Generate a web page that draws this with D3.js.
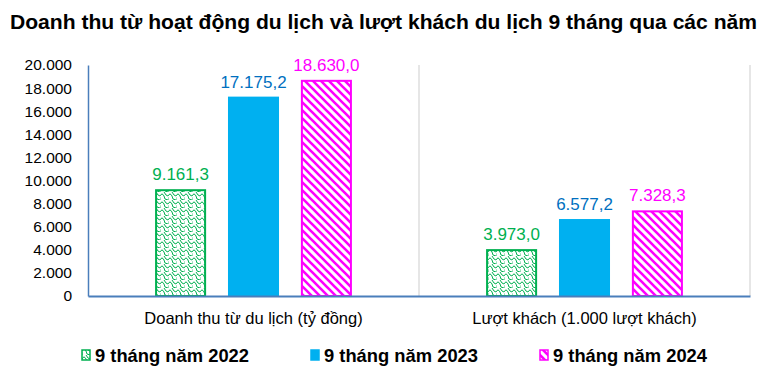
<!DOCTYPE html>
<html>
<head>
<meta charset="utf-8">
<script src="https://cdn.jsdelivr.net/npm/d3@7"></script>
<style>
  body { margin: 0; background: #fff; }
  svg { display: block; }
</style>
</head>
<body>
<script>
// data
var categories = ["Doanh thu từ du lịch (tỷ đồng)", "Lượt khách (1.000 lượt khách)"];
var seriesNames = ["9 tháng năm 2022", "9 tháng năm 2023", "9 tháng năm 2024"];
var values2022 = [9161.3, 3973.0];
var values2023 = [17175.2, 6577.2];
var values2024 = [18630.0, 7328.3];
var yTicks = [0, 2000, 4000, 6000, 8000, 10000, 12000, 14000, 16000, 18000, 20000];

var allValues = [values2022, values2023, values2024];
var fills = ["url(#scales)", "#00b0f0", "url(#stripes)"];
var strokes = ["#00b050", "#00b0f0", "#ff00ff"];
var labelColors = ["#00b050", "#0070c0", "#ff00ff"];

var w = 769, h = 389;
var mLeft = 88, mRight = 750, mTop = 65, mBottom = 296;

var vn = d3.formatLocale({decimal: ",", thousands: ".", grouping: [3], currency: ["", ""]});
var fmtVal = vn.format(",.1f");
var fmtTick = vn.format(",.0f");

var svg = d3.select("body").append("svg").attr("width", w).attr("height", h);

// patterns
var defs = svg.append("defs");
var p1 = defs.append("pattern").attr("id", "scales")
  .attr("patternUnits", "userSpaceOnUse").attr("width", 8).attr("height", 8);
p1.append("rect").attr("width", 8).attr("height", 8).attr("fill", "#fff");
p1.append("path")
  .attr("d", "M0,4 Q2,0 4,4 M4,4 Q4,8 8,8 M4,0 Q6,4 8,4 M0,8 Q0,4 -1,4")
  .attr("fill", "none").attr("stroke", "#00b050").attr("stroke-width", 1);

var p2 = defs.append("pattern").attr("id", "stripes")
  .attr("patternUnits", "userSpaceOnUse").attr("width", 8).attr("height", 8);
p2.append("rect").attr("width", 8).attr("height", 8).attr("fill", "#fff");
p2.append("path")
  .attr("d", "M-2,-2 L10,10 M-2,6 L2,10 M6,-2 L10,2")
  .attr("stroke", "#ff00ff").attr("stroke-width", 2.6);

var x0 = d3.scaleBand().domain(categories).range([mLeft, mRight]);
var x1 = d3.scaleBand().domain(seriesNames).range([0, x0.bandwidth()])
  .paddingInner(0.3).paddingOuter(0.92);
var y = d3.scaleLinear().domain([0, 20000]).range([mBottom, mTop]);

// title
svg.append("text")
  .attr("x", 10).attr("y", 29)
  .attr("textLength", 747).attr("lengthAdjust", "spacingAndGlyphs")
  .attr("font-family", "'Liberation Sans', Arial, sans-serif")
  .attr("font-weight", "bold")
  .attr("font-size", 20)
  .attr("fill", "#000")
  .text("Doanh thu từ hoạt động du lịch và lượt khách du lịch 9 tháng qua các năm");

// category separators
svg.selectAll("line.sep").data([categories[1], null]).enter().append("line")
  .attr("x1", function(d) { return d ? x0(d) : mRight; })
  .attr("x2", function(d) { return d ? x0(d) : mRight; })
  .attr("y1", mTop).attr("y2", mBottom)
  .attr("stroke", "#e6e6e6").attr("stroke-width", 2);

// y axis
var yAxis = svg.append("g").attr("transform", "translate(" + mLeft + ",0)")
  .call(d3.axisLeft(y).tickValues(yTicks).tickFormat(fmtTick).tickSize(0).tickPadding(16));
yAxis.select(".domain").attr("stroke", "#4a7ebb").attr("stroke-width", 1.5);
yAxis.selectAll("text")
  .attr("font-family", "'Liberation Sans', Arial, sans-serif")
  .attr("font-size", 15.5).attr("fill", "#000");

// bars
allValues.forEach(function(vals, si) {
  var g = svg.append("g");
  g.selectAll("rect").data(vals).enter().append("rect")
    .attr("x", function(d, i) { return x0(categories[i]) + x1(seriesNames[si]) + 1; })
    .attr("y", function(d) { return y(d); })
    .attr("width", x1.bandwidth() - 2)
    .attr("height", function(d) { return mBottom - y(d); })
    .attr("fill", fills[si])
    .attr("stroke", strokes[si])
    .attr("stroke-width", 2);
  g.selectAll("text").data(vals).enter().append("text")
    .attr("x", function(d, i) { return x0(categories[i]) + x1(seriesNames[si]) + x1.bandwidth() / 2; })
    .attr("y", function(d) { return y(d) - 10; })
    .attr("text-anchor", "middle")
    .attr("font-family", "'Liberation Sans', Arial, sans-serif")
    .attr("font-size", 17)
    .attr("fill", labelColors[si])
    .text(function(d) { return fmtVal(d); });
});

// x axis
var xAxis = svg.append("g").attr("transform", "translate(0," + mBottom + ")")
  .call(d3.axisBottom(x0).tickSize(0).tickPadding(16));
xAxis.select(".domain").attr("stroke", "#4a7ebb").attr("stroke-width", 2);
xAxis.selectAll("text")
  .attr("font-family", "'Liberation Sans', Arial, sans-serif")
  .attr("font-size", 16.5).attr("fill", "#000");

// legend
var legendX = [82, 311, 540];
var lg = svg.selectAll("g.legend").data(seriesNames).enter().append("g")
  .attr("transform", function(d, i) { return "translate(" + legendX[i] + ",355)"; });
lg.append("rect")
  .attr("x", 0).attr("y", -5).attr("width", 8).attr("height", 10)
  .attr("fill", function(d, i) { return fills[i]; })
  .attr("stroke", function(d, i) { return strokes[i]; })
  .attr("stroke-width", 1.5);
lg.append("text")
  .attr("x", 13).attr("y", 7)
  .attr("textLength", 154).attr("lengthAdjust", "spacingAndGlyphs")
  .attr("font-family", "'Liberation Sans', Arial, sans-serif")
  .attr("font-weight", "bold")
  .attr("font-size", 19)
  .attr("fill", "#000")
  .text(function(d) { return d; });
</script>
</body>
</html>
